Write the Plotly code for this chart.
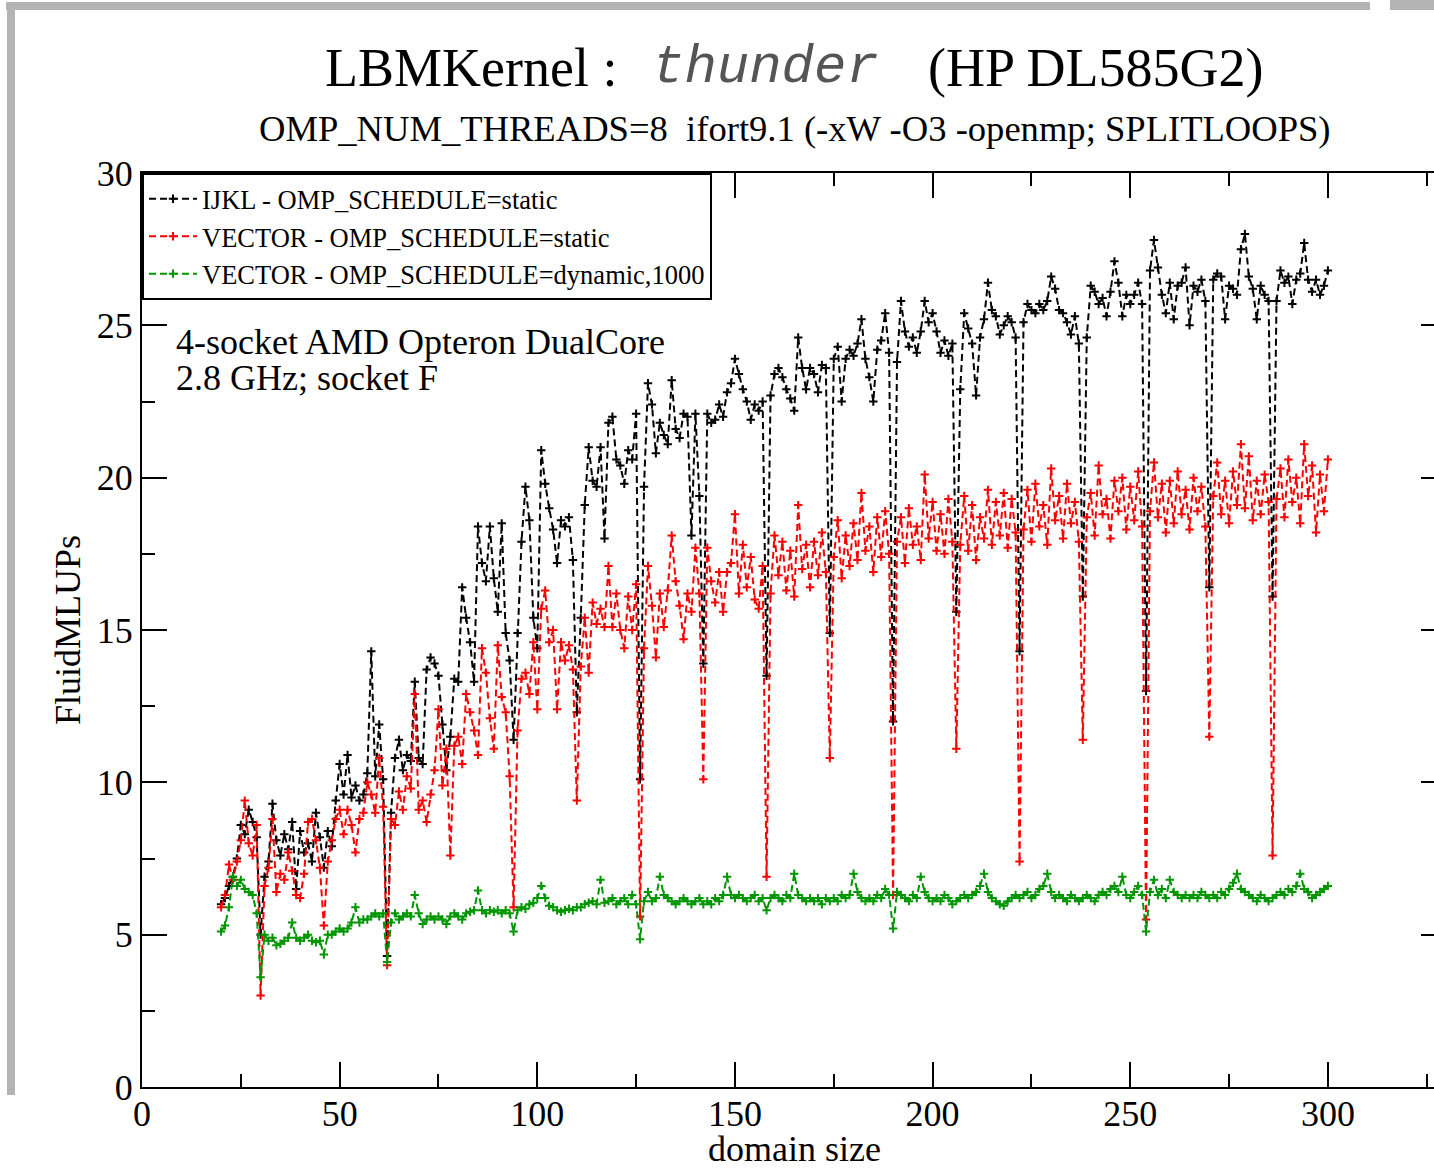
import plotly.graph_objects as go

# ---------------- data ----------------
domain_size = list(range(20, 301))

ijkl_static = [
    6.0, 6.2, 6.6, 6.9, 7.5, 8.6, 8.3, 9.1, 8.7, 8.2,
    5.0, 6.9, 7.4, 9.3, 8.1, 7.6, 8.3, 7.8, 8.7, 6.5,
    8.4, 7.7, 8.0, 7.4, 9.0, 8.2, 7.2, 8.4, 7.9, 9.4,
    10.6, 9.6, 10.9, 9.5, 9.9, 9.4, 9.6, 10.3, 14.3, 10.2,
    11.9, 10.1, 4.3, 9.0, 10.8, 11.4, 10.4, 10.9, 10.7, 13.3,
    10.8, 10.6, 13.7, 14.1, 13.9, 13.5, 11.9, 10.4, 11.5, 13.4,
    13.3, 16.4, 15.4, 14.6, 13.3, 18.4, 17.2, 16.6, 18.4, 16.7,
    15.6, 18.5, 14.9, 14.0, 11.4, 14.9, 17.9, 19.7, 18.6, 15.4,
    14.4, 20.9, 19.8, 19.0, 18.3, 17.2, 18.6, 18.4, 18.7, 17.3,
    12.3, 15.4, 19.1, 21.0, 19.9, 19.7, 21.0, 18.0, 21.8, 22.0,
    20.6, 20.4, 19.8, 20.9, 20.6, 22.1, 10.1, 19.7, 23.1, 22.4,
    20.8, 21.8, 21.4, 21.1, 23.2, 21.6, 21.3, 22.1, 22.0, 18.1,
    22.1, 19.4, 13.9, 22.1, 21.8, 21.9, 22.4, 22.0, 22.8, 23.1,
    23.9, 23.4, 22.9, 22.5, 21.9, 22.4, 22.2, 22.5, 13.5, 22.7,
    23.4, 23.6, 23.3, 22.9, 22.6, 22.2, 24.6, 23.6, 22.9, 23.6,
    23.4, 22.8, 23.7, 23.6, 14.9, 23.9, 24.3, 22.5, 23.9, 24.2,
    24.0, 24.4, 25.2, 23.9, 23.3, 22.5, 24.2, 24.5, 25.4, 24.1,
    12.0, 23.8, 25.8, 24.8, 24.3, 24.6, 24.1, 24.8, 25.8, 25.1,
    25.4, 24.8, 24.1, 24.5, 24.0, 24.4, 15.6, 22.9, 25.4, 24.9,
    24.4, 22.7, 24.6, 25.2, 26.4, 25.5, 25.3, 24.7, 25.0, 25.3,
    25.1, 24.6, 14.3, 25.1, 25.7, 25.5, 25.4, 25.7, 25.5, 25.8,
    26.6, 26.2, 25.5, 25.4, 25.1, 24.7, 25.3, 24.4, 16.1, 24.6,
    26.3, 26.1, 25.7, 25.9, 25.3, 26.1, 27.1, 26.4, 25.3, 26.0,
    25.7, 26.0, 26.4, 25.7, 13.0, 26.8, 27.8, 26.9, 26.0, 25.4,
    26.4, 25.2, 26.3, 26.4, 26.9, 25.0, 26.3, 26.1, 26.5, 25.8,
    16.4, 26.5, 26.7, 26.6, 25.2, 26.3, 26.2, 26.0, 27.5, 28.0,
    26.6, 26.2, 25.2, 26.3, 26.0, 25.8, 16.1, 25.8, 26.8, 26.4,
    26.6, 25.7, 26.5, 26.7, 27.7, 26.5, 26.1, 26.5, 26.0, 26.3,
    26.8,
]

vector_static = [
    5.9, 6.3, 7.3, 6.8, 7.4, 8.1, 9.4, 8.0, 7.6, 8.6,
    3.0, 6.6, 7.2, 8.8, 6.4, 7.0, 6.8, 7.7, 7.1, 6.3,
    6.2, 7.0, 8.7, 8.8, 8.1, 7.2, 5.3, 7.4, 8.1, 8.8,
    9.1, 8.3, 9.1, 8.6, 7.7, 8.8, 9.0, 10.0, 9.6, 9.0,
    10.8, 9.2, 4.0, 8.8, 8.6, 9.7, 9.1, 10.2, 9.8, 12.9,
    9.1, 9.4, 8.7, 9.6, 10.4, 12.4, 9.9, 11.1, 7.6, 11.2,
    11.5, 10.6, 12.9, 12.3, 11.7, 10.9, 14.4, 13.6, 12.1, 11.1,
    14.5, 12.8, 12.3, 10.2, 5.9, 11.7, 13.4, 13.6, 12.9, 14.6,
    12.4, 15.7, 16.3, 14.6, 15.0, 12.4, 14.6, 14.0, 14.5, 13.7,
    9.4, 13.8, 15.4, 13.6, 15.9, 15.2, 15.7, 15.1, 17.1, 15.1,
    16.2, 15.0, 14.4, 16.1, 15.0, 16.5, 5.6, 14.4, 17.1, 15.8,
    14.1, 16.2, 15.1, 16.3, 18.1, 16.6, 15.8, 14.7, 16.2, 15.6,
    17.7, 16.2, 10.1, 17.7, 16.6, 15.9, 16.9, 15.6, 16.9, 17.2,
    18.8, 16.2, 17.8, 16.4, 17.4, 16.0, 15.7, 17.1, 6.9, 16.2,
    18.1, 16.8, 17.9, 16.3, 17.6, 16.1, 19.1, 17.0, 17.8, 16.4,
    17.9, 16.8, 18.2, 16.9, 10.8, 17.4, 18.6, 16.7, 18.1, 17.1,
    18.5, 17.3, 19.5, 17.6, 18.4, 16.9, 18.7, 17.4, 18.9, 17.5,
    6.3, 17.9, 18.7, 17.2, 19.0, 17.8, 18.4, 17.3, 20.1, 18.0,
    19.2, 17.6, 18.8, 17.5, 19.3, 17.9, 11.1, 17.8, 19.4, 17.6,
    19.1, 17.3, 18.7, 18.0, 19.6, 17.8, 19.2, 18.1, 19.5, 17.7,
    19.3, 18.2, 7.4, 18.3, 19.6, 17.9, 19.8, 18.4, 19.1, 17.8,
    20.3, 18.6, 19.4, 18.0, 19.8, 18.5, 19.2, 17.9, 11.4, 18.7,
    19.5, 18.1, 20.4, 18.8, 19.3, 18.0, 19.9, 18.9, 20.0, 18.3,
    19.7, 18.6, 20.2, 18.4, 5.5, 18.9, 20.5, 18.7, 19.8, 18.2,
    19.9, 18.5, 20.2, 18.8, 19.6, 18.3, 20.0, 18.9, 19.7, 18.4,
    11.5, 19.4, 20.5, 18.8, 19.9, 18.5, 20.2, 19.1, 21.1, 19.0,
    20.7, 18.6, 19.9, 18.8, 20.1, 19.2, 7.6, 19.3, 20.3, 18.7,
    20.6, 19.2, 20.0, 18.5, 21.1, 19.4, 20.4, 18.2, 20.1, 18.9,
    20.6,
]

vector_dynamic = [
    5.1, 5.3, 5.9, 6.9, 6.6, 6.8, 6.5, 6.4, 6.3, 5.7,
    3.6, 5.0, 4.8, 4.9, 4.65, 4.7, 4.8, 4.9, 5.4, 4.9,
    4.8, 4.9, 5.0, 4.8, 4.75, 4.8, 4.35, 5.0, 5.0, 5.1,
    5.2, 5.1, 5.2, 5.4, 5.9, 5.4, 5.5, 5.5, 5.6, 5.7,
    5.6, 5.7, 4.1, 5.4, 5.7, 5.5, 5.6, 5.7, 5.6, 6.3,
    5.7, 5.35, 5.5, 5.6, 5.5, 5.6, 5.5, 5.35, 5.6, 5.7,
    5.6, 5.5, 5.7, 5.75, 5.8, 6.45, 5.8, 5.7, 5.8, 5.75,
    5.8, 5.7, 5.8, 5.7, 5.1, 5.8, 5.9, 5.85, 6.0, 6.05,
    6.2, 6.6, 6.2, 5.95, 5.9, 5.8, 5.75, 5.8, 5.85, 5.8,
    5.9, 5.9, 6.0, 6.05, 6.1, 6.0, 6.8, 6.05, 6.1, 6.2,
    6.0, 6.1, 6.2, 6.0, 6.3, 6.0, 4.85, 6.1, 6.4, 6.1,
    6.2, 6.9, 6.3, 6.2, 6.1, 6.0, 6.1, 6.2, 6.1, 6.0,
    6.1, 6.2, 6.0, 6.1, 6.0, 6.2, 6.1, 6.3, 6.9, 6.3,
    6.2, 6.3, 6.2, 6.1, 6.2, 6.3, 6.1, 6.2, 5.8, 6.2,
    6.3, 6.2, 6.1, 6.3, 6.2, 7.0, 6.3, 6.2, 6.1, 6.2,
    6.1, 6.2, 6.0, 6.2, 6.1, 6.2, 6.1, 6.3, 6.2, 6.3,
    7.0, 6.4, 6.2, 6.1, 6.2, 6.1, 6.3, 6.2, 6.5, 6.3,
    5.2, 6.4, 6.3, 6.2, 6.1, 6.3, 6.2, 6.9, 6.4, 6.2,
    6.1, 6.2, 6.1, 6.3, 6.2, 6.0, 6.1, 6.2, 6.3, 6.2,
    6.3, 6.4, 6.6, 7.0, 6.4, 6.2, 6.1, 6.0, 5.95, 6.1,
    6.2, 6.3, 6.2, 6.3, 6.4, 6.2, 6.3, 6.5, 6.6, 7.0,
    6.4, 6.2, 6.3, 6.2, 6.1, 6.3, 6.2, 6.1, 6.2, 6.3,
    6.2, 6.1, 6.3, 6.4, 6.3, 6.5, 6.6, 6.4, 6.9, 6.3,
    6.2, 6.4, 6.6, 6.3, 5.1, 6.4, 6.8, 6.3, 6.5, 6.2,
    6.8, 6.4, 6.3, 6.2, 6.3, 6.2, 6.3, 6.2, 6.4, 6.3,
    6.2, 6.3, 6.2, 6.4, 6.3, 6.5, 6.7, 7.0, 6.5, 6.4,
    6.3, 6.2, 6.1, 6.3, 6.2, 6.1, 6.2, 6.3, 6.4, 6.3,
    6.5, 6.4, 6.6, 7.0, 6.5, 6.4, 6.2, 6.3, 6.4, 6.5,
    6.6,
]

series_names = [
    "IJKL - OMP_SCHEDULE=static",
    "VECTOR - OMP_SCHEDULE=static",
    "VECTOR - OMP_SCHEDULE=dynamic,1000",
]
series_colors = ["#000000", "#ff0000", "#009600"]

x_ticks = [0, 50, 100, 150, 200, 250, 300]
y_ticks = [0, 5, 10, 15, 20, 25, 30]

# ---------------- geometry (pixels) ----------------
W, H = 1434, 1169
L, R, T, B = 142, 0, 173, 82
PW = W - L - R
PH = H - T - B


def px(xp):
    return (xp - L) / PW


def py(yp):
    return (H - B - yp) / PH


SERIF = "Liberation Serif"
MONO = "Liberation Mono"

fig = go.Figure()
for name, vals, col in zip(series_names, [ijkl_static, vector_static, vector_dynamic], series_colors):
    fig.add_trace(go.Scatter(
        x=domain_size, y=vals, name=name, mode="lines+markers",
        line=dict(color=col, width=2, dash="7px,4px"),
        marker=dict(symbol="cross-thin", size=6, line=dict(color=col, width=2), color=col),
        legendgroup=name,
    ))

# invisible trace to carry the right-hand tick axis
fig.add_trace(go.Scatter(x=domain_size, y=vector_dynamic, yaxis="y2", mode="lines",
                         line=dict(width=0), opacity=0, showlegend=False, hoverinfo="skip"))

axis_common = dict(showgrid=False, zeroline=False, ticks="inside", ticklen=25, tickwidth=2,
                   tickcolor="black", linecolor="black", linewidth=2, showline=True,
                   tickfont=dict(family=SERIF, size=36, color="black"))

fig.update_layout(
    width=W, height=H,
    margin=dict(l=L, r=R, t=T, b=B, pad=0),
    paper_bgcolor="white", plot_bgcolor="white",
    showlegend=True,
    legend=dict(x=0, y=1, xanchor="left", yanchor="top", bgcolor="white",
                bordercolor="black", borderwidth=2, itemwidth=48,
                font=dict(family=SERIF, size=26.5, color="black"), tracegroupgap=0),
    xaxis=dict(range=[0, PW / 3.953], tickvals=x_ticks, ticktext=[str(v) for v in x_ticks],
               mirror="ticks", ticklabelstandoff=-6,
               minor=dict(dtick=25, tick0=0, ticklen=13, tickwidth=2, tickcolor="black", ticks="inside"),
               **axis_common),
    yaxis=dict(range=[0, 30], tickvals=y_ticks, ticktext=[str(v) for v in y_ticks], mirror=False,
               minor=dict(dtick=2.5, tick0=0, ticklen=13, tickwidth=2, tickcolor="black", ticks="inside"),
               **axis_common),
    yaxis2=dict(range=[0, 30], overlaying="y", side="right", anchor="x", tickvals=y_ticks,
                showticklabels=False, ticks="inside", ticklen=13, tickwidth=2, tickcolor="black",
                showline=False, showgrid=False, zeroline=False),
)

anns = [
    dict(text="LBMKernel :", x=px(323), y=py(68), xanchor="left", yanchor="middle",
         font=dict(family=SERIF, size=54, color="black")),
    dict(text="<i>thunder</i>", x=px(650), y=py(68), xanchor="left", yanchor="middle",
         font=dict(family=MONO, size=54, color="#555555")),
    dict(text="(HP DL585G2)", x=px(926), y=py(68), xanchor="left", yanchor="middle",
         font=dict(family=SERIF, size=54, color="black")),
    dict(text="OMP_NUM_THREADS=8\u00a0 ifort9.1 (-xW -O3 -openmp; SPLITLOOPS)", x=px(795), y=py(128),
         xanchor="center", yanchor="middle", font=dict(family=SERIF, size=36.6, color="black")),
    dict(text="4-socket AMD Opteron DualCore", x=px(174), y=py(342), xanchor="left", yanchor="middle",
         font=dict(family=SERIF, size=36, color="black")),
    dict(text="2.8 GHz; socket F", x=px(174), y=py(378), xanchor="left", yanchor="middle",
         font=dict(family=SERIF, size=36, color="black")),
    dict(text="domain size", x=px(795), y=py(1149), xanchor="center", yanchor="middle",
         font=dict(family=SERIF, size=36, color="black")),
    dict(text="FluidMLUPs", x=px(68), y=py(630), xanchor="center", yanchor="middle", textangle=-90,
         font=dict(family=SERIF, size=36, color="black")),
]
for a in anns:
    a.update(xref="paper", yref="paper", showarrow=False)
fig.update_layout(annotations=anns)

grey = "#b4b4b4"
shapes = [
    dict(type="rect", x0=px(6), x1=px(1370), y0=py(10), y1=py(2)),
    dict(type="rect", x0=px(1390), x1=px(1434), y0=py(10), y1=py(0)),
    dict(type="rect", x0=px(7), x1=px(15), y0=py(1095), y1=py(2)),
]
for s in shapes:
    s.update(xref="paper", yref="paper", fillcolor=grey, line=dict(width=0), layer="above")
fig.update_layout(shapes=shapes)

fig.write_html("out.html")
